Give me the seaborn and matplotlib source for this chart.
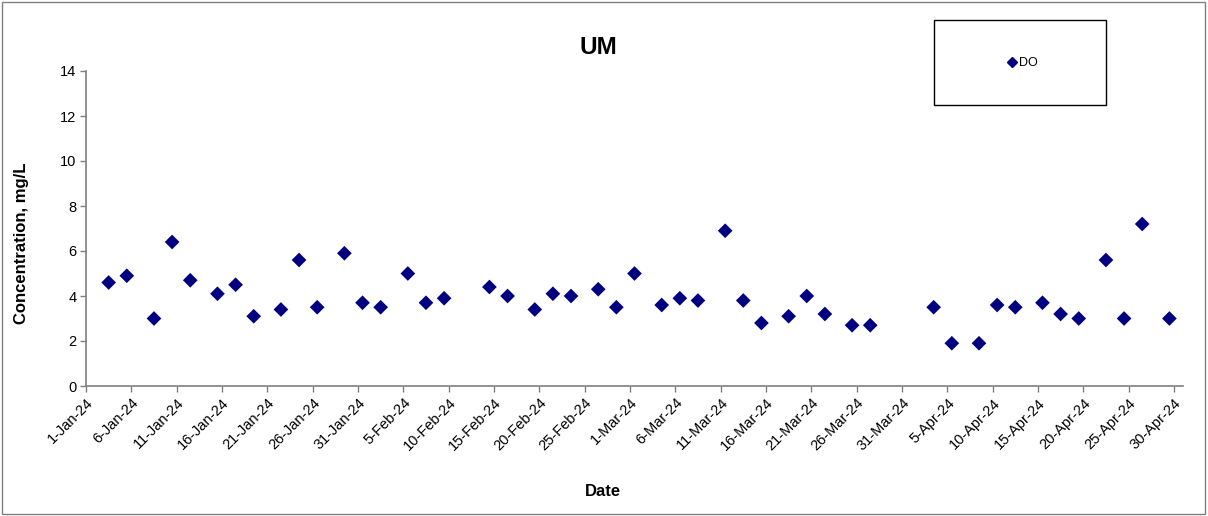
import pandas as pd
import numpy as np
import matplotlib
matplotlib.use("Agg")
import matplotlib.pyplot as plt
import matplotlib.patches as patches
import seaborn as sns

# sampling dates (Mon/Wed/Fri pattern) and dissolved oxygen readings
dates = ["2024-01-03", "2024-01-05", "2024-01-08", "2024-01-10", "2024-01-12",
         "2024-01-15", "2024-01-17", "2024-01-19", "2024-01-22", "2024-01-24",
         "2024-01-26", "2024-01-29", "2024-01-31", "2024-02-02", "2024-02-05",
         "2024-02-07", "2024-02-09", "2024-02-14", "2024-02-16", "2024-02-19",
         "2024-02-21", "2024-02-23", "2024-02-26", "2024-02-28", "2024-03-01",
         "2024-03-04", "2024-03-06", "2024-03-08", "2024-03-11", "2024-03-13",
         "2024-03-15", "2024-03-18", "2024-03-20", "2024-03-22", "2024-03-25",
         "2024-03-27", "2024-04-03", "2024-04-05", "2024-04-08", "2024-04-10",
         "2024-04-12", "2024-04-15", "2024-04-17", "2024-04-19", "2024-04-22",
         "2024-04-24", "2024-04-26", "2024-04-29"]
do_values = [4.6, 4.9, 3.0, 6.4, 4.7,
             4.1, 4.5, 3.1, 3.4, 5.6,
             3.5, 5.9, 3.7, 3.5, 5.0,
             3.7, 3.9, 4.4, 4.0, 3.4,
             4.1, 4.0, 4.3, 3.5, 5.0,
             3.6, 3.9, 3.8, 6.9, 3.8,
             2.8, 3.1, 4.0, 3.2, 2.7,
             2.7, 3.5, 1.9, 1.9, 3.6,
             3.5, 3.7, 3.2, 3.0, 5.6,
             3.0, 7.2, 3.0]

y_ticks = [0, 2, 4, 6, 8, 10, 12, 14]
tick_dates = pd.date_range("2024-01-01", "2024-04-30", freq="5D")

df = pd.DataFrame({"Date": pd.to_datetime(dates), "DO": do_values})

sns.set_style("white")
plt.rcParams["font.family"] = ["Liberation Sans", "DejaVu Sans"]
plt.rcParams["text.color"] = "black"
plt.rcParams["axes.labelcolor"] = "black"

fig = plt.figure(figsize=(12.08, 5.16), dpi=100)
ax = fig.add_axes([86 / 1208, 1 - 386 / 516, (1183 - 86) / 1208, (386 - 71) / 516])

sns.scatterplot(data=df, x="Date", y="DO", marker="D", color="#000080",
                s=56, edgecolor="none", ax=ax, label="DO", legend=False)

# Excel puts each point in the middle of its day, ticks sit at day start
half = pd.Timedelta(hours=12)
ax.set_xticks(tick_dates - half)
ax.set_xticklabels([f"{d.day}-{d.strftime('%b-%y')}" for d in tick_dates],
                   rotation=45, ha="right", rotation_mode="anchor", fontsize=10.5)
ax.set_xlim(pd.Timestamp("2024-01-01") - half, pd.Timestamp("2024-05-01") - half)
ax.set_ylim(0, 14)
ax.set_yticks(y_ticks)
ax.set_yticklabels([str(v) for v in y_ticks], fontsize=10.5)
ax.set_xlabel("")
ax.set_ylabel("")

for s in ["top", "right"]:
    ax.spines[s].set_visible(False)
for s in ["left", "bottom"]:
    ax.spines[s].set_color("#808080")
    ax.spines[s].set_linewidth(1.2)
ax.tick_params(axis="both", direction="out", length=4, width=1, color="#808080",
               left=True, bottom=True, labelcolor="black", pad=3)

fig.text(598 / 1208, 1 - 48 / 516, "UM", ha="center", va="center",
         fontsize=17.5, fontweight="bold", color="black")
fig.text(22 / 1208, 1 - 243 / 516, "Concentration, mg/L", ha="center", va="center",
         rotation=90, fontsize=12, fontweight="bold", color="black")
fig.text(603 / 1208, 1 - 492 / 516, "Date", ha="center", va="center",
         fontsize=12, fontweight="bold", color="black")

# legend box
fig.patches.append(patches.Rectangle((934 / 1208, 1 - 105 / 516), 172 / 1208, 85 / 516,
                                     transform=fig.transFigure, fill=False,
                                     edgecolor="black", linewidth=1))
handle = plt.Line2D([], [], marker="D", color="#000080", linestyle="none", markersize=5)
leg = fig.legend([handle], ["DO"], loc="center", bbox_to_anchor=(1022 / 1208, 1 - 63 / 516),
                 frameon=False, fontsize=9, handletextpad=0.1, handlelength=1.0)
for t in leg.get_texts():
    t.set_color("black")

# outer chart border
fig.patches.append(patches.Rectangle((2 / 1208, 2 / 516), 1203 / 1208, 512 / 516,
                                     transform=fig.transFigure, fill=False,
                                     edgecolor="#808080", linewidth=1))

fig.savefig("out.png", dpi=100)
